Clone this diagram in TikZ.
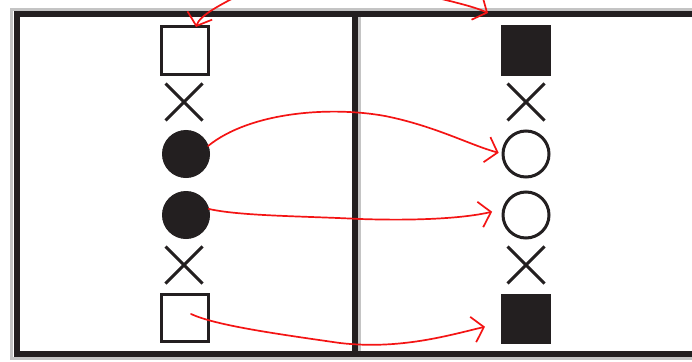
\documentclass[tikz,border=0pt]{standalone}
\usetikzlibrary{arrows.meta,shapes.misc}
\definecolor{ink}{HTML}{231F20}
\definecolor{pen}{HTML}{F41414}
\definecolor{halo}{HTML}{C4C4C4}
\begin{document}
\begin{tikzpicture}[x=1pt,y=-1pt,
  frame/.style={line width=6pt, draw=ink, line join=miter},
  framehalo/.style={line width=3pt, draw=halo, line join=miter},
  sq/.style={draw=ink, line width=3pt, minimum size=47pt, inner sep=0pt, outer sep=0pt},
  sqfill/.style={sq, fill=ink},
  dot/.style={circle, draw=ink, fill=ink, minimum size=47pt, inner sep=0pt, line width=1pt, outer sep=0pt},
  ring/.style={circle, draw=ink, line width=3pt, minimum size=46pt, inner sep=0pt, outer sep=0pt},
  xmark/.style={cross out, draw=ink, line width=3pt, minimum size=34pt, inner sep=0pt},
  link/.style={draw=pen, line width=1.7pt, line cap=round, -{Straight Barb[length=11pt,width=26pt]}}
]
\useasboundingbox (0,0) rectangle (692,361);
\clip (0,0) rectangle (692,361);
\fill[white] (0,0) rectangle (692,361);
% frame halo
\draw[framehalo] (700,9.5) -- (11.5,9.5) -- (11.5,358.5) -- (700,358.5);
\draw[framehalo] (359,14) -- (359,354);
% frame
\draw[frame] (700,14) -- (17,14) -- (17,354) -- (700,354);
\draw[frame] (355,14) -- (355,354);
% left column
\node[sq] (ls1) at (185,50.5) {};
\node[xmark] (lx1) at (184,102) {};
\node[dot] (lc1) at (186,154) {};
\node[dot] (lc2) at (186,215) {};
\node[xmark] (lx2) at (184,265) {};
\node[sq] (ls2) at (185,318) {};
% right column
\node[sqfill] (rs1) at (526,50.5) {};
\node[xmark] (rx1) at (526,102) {};
\node[ring] (rc1) at (526,154) {};
\node[ring] (rc2) at (526,215) {};
\node[xmark] (rx2) at (526,265) {};
\node[sqfill] (rs2) at (526,318.5) {};
% red arrows
\coordinate (p3) at (191,314);
\coordinate (p4) at (245,-8);
\coordinate (p5) at (420,-6);
\coordinate (q5) at (488,13);
\draw[link, shorten >=4.5pt] (lc1.20) .. controls (250,112) and (330,106) .. (385,116) .. controls (435,126) and (470,145) .. (rc1.west);
\draw[link, shorten >=12pt] (lc2.15) .. controls (240,216) and (300,216) .. (360,219) .. controls (420,221) and (465,218) .. (rc2.165);
\draw[link, shorten >=18pt] (p3) .. controls (215,325) and (270,333) .. (340,343) .. controls (400,350) and (450,335) .. (rs2.190);
\draw[link] (p4) .. controls (220,5) and (200,15) .. (ls1.65);
\draw[link] (p5) .. controls (455,2) and (475,7) .. (q5);
\end{tikzpicture}
\end{document}
